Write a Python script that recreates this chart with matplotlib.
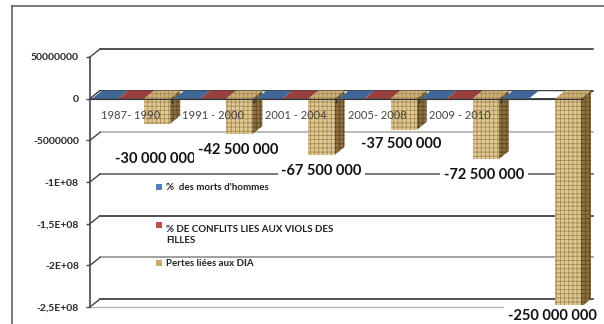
import numpy as np
import matplotlib.pyplot as plt
from matplotlib.patches import Polygon, Rectangle
from matplotlib.lines import Line2D

plt.rcParams['font.family'] = ['Lato', 'DejaVu Sans']
plt.rcParams['hatch.linewidth'] = 0.6

categories = ["1987- 1990", "1991 - 2000", "2001 - 2004", "2005- 2008", "2009 - 2010", ""]
morts_hommes = [0, 0, 0, 0, 0, 0]
conflits_viols = [0, 0, 0, 0, 0, np.nan]
pertes_dia = [-30000000, -42500000, -67500000, -37500000, -72500000, -250000000]

series_names = ["%  des morts d'hommes",
                "% DE CONFLITS LIES AUX VIOLS DES\nFILLES",
                "Pertes liées aux DIA"]

y_ticks = [50000000, 0, -50000000, -100000000, -150000000, -200000000, -250000000]
y_tick_labels = ["50000000", "0", "-5000000", "-1E+08", "-1,5E+08", "-2E+08", "-2,5E+08"]

# depth of the fake 3d box, in data units
DX = 0.122
DY = 9.6e6
W = 0.317

fig = plt.figure(figsize=(6.04, 3.24), dpi=100)
ax = fig.add_axes([90 / 604, 1 - 307 / 324, 503 / 604, 258 / 324])
ax.set_xlim(-0.5, 5.5 + DX)
ax.set_ylim(-250e6, 50e6 + DY)

# back wall gridlines with the slanted side-wall connectors
grid_colors = ['#222222', '#555555', '#a8a8a8', '#555555', '#222222', '#888888', '#222222']
for t, c in zip(y_ticks, grid_colors):
    ax.plot([-0.5 + DX, 5.5 + DX], [t + DY, t + DY], color=c, lw=1.1, zorder=1, clip_on=False)
    ax.plot([-0.5, -0.5 + DX], [t, t + DY], color='#444444', lw=1.0, zorder=1, clip_on=False)

# front edge of the floor at the bottom of the box
ax.plot([-0.5, 5.5], [-250e6, -250e6], color='#b8b8b8', lw=1.0, zorder=1, clip_on=False)

# floor slab
ax.add_patch(Polygon([(-0.5, 0), (5.5, 0), (5.5 + DX, DY), (-0.5 + DX, DY)],
                     closed=True, fc='white', ec='#333333', lw=0.8, zorder=1.2))


def draw_bar(i, k, v, front, top, side, hatch_col, hatch=None):
    x0 = i + (k - 1) * W - W / 2
    x1 = x0 + W
    ax.add_patch(Polygon([(x0, 0), (x1, 0), (x1 + DX, DY), (x0 + DX, DY)], closed=True,
                         fc=top, ec=hatch_col if hatch else top, lw=0, hatch=hatch, zorder=1.5))
    if v == 0:
        return
    ax.add_patch(Polygon([(x1, 0), (x1 + DX, DY), (x1 + DX, v + DY), (x1, v)], closed=True,
                         fc=side, ec='#5e4a28', lw=0, hatch=hatch, zorder=1.5))
    ax.add_patch(Rectangle((x0, v), W, -v, fc=front, ec=hatch_col, lw=0, hatch=hatch, zorder=1.6))


for i in range(len(categories)):
    if not np.isnan(morts_hommes[i]):
        draw_bar(i, 0, morts_hommes[i], '#4f81bd', '#3f6797', '#2f4f75', '#3f6797')
    if not np.isnan(conflits_viols[i]):
        draw_bar(i, 1, conflits_viols[i], '#c0504d', '#99403e', '#7a3230', '#99403e')
    draw_bar(i, 2, pertes_dia[i], '#e0c992', '#cdb07a', '#8c6f3e', '#a88a55', hatch='++++')

# value labels under the DIA bars
label_offsets = [(-2, -35), (-1, -16), (0, -16), (-2, -14), (-2, -16), (-16, -9)]
for i, (v, (ox, oy)) in enumerate(zip(pertes_dia, label_offsets)):
    txt = f"{v:,.0f}".replace(",", " ")
    ax.annotate(txt, xy=(i + W, v), xytext=(ox * 0.72, oy * 0.72), textcoords='offset points',
                ha='center', va='center', fontsize=10.5, fontweight='bold', color='#111111',
                bbox=dict(boxstyle='square,pad=0.25', fc='white', ec='none'), zorder=4,
                annotation_clip=False)

for s in ['top', 'right']:
    ax.spines[s].set_visible(False)
ax.spines['left'].set_bounds(-250e6, 50e6)
ax.spines['left'].set_color('#555555')
ax.spines['left'].set_linewidth(1.3)
ax.spines['bottom'].set_position(('data', 0))
ax.spines['bottom'].set_bounds(-0.5, 5.5)
ax.spines['bottom'].set_color('#333333')
ax.spines['bottom'].set_linewidth(0.8)
ax.set_axisbelow(False)

ax.set_yticks(y_ticks)
ax.set_yticklabels(y_tick_labels, fontsize=7.5, fontweight='bold', color='#262626')
ax.tick_params(axis='y', length=3, width=1, color='#444444', pad=5)

ax.set_xticks(range(len(categories)))
ax.set_xticklabels(categories, fontsize=8, color='#444444')
ax.set_xticks(np.arange(0.5, 5.5, 1), minor=True)
ax.tick_params(axis='x', which='major', length=0, pad=8)
ax.tick_params(axis='x', which='minor', length=3, width=1, color='#333333')

# legend entries sit inside the plot, between the gridlines
legend_colors = ['#4f81bd', '#c0504d', '#c8aa6e']
legend_y = [187, 225, 263]
for name, col, yy in zip(series_names, legend_colors, legend_y):
    fig.add_artist(Rectangle((156 / 604, 1 - (yy + 3) / 324), 6 / 604, 6 / 324,
                             transform=fig.transFigure, fc=col, ec='none'))
    fig.text(166 / 604, 1 - yy / 324, name, fontsize=7, fontweight='bold', color='#222222',
             ha='left', va='top' if '\n' in name else 'center', linespacing=1.25,
             transform=fig.transFigure)

# chart area border
fig.add_artist(Line2D([12 / 604, 12 / 604], [0, 1 - 6 / 324], color='#555555', lw=1.1,
                      transform=fig.transFigure))
fig.add_artist(Line2D([12 / 604, 1], [1 - 6 / 324, 1 - 6 / 324], color='#555555', lw=1.1,
                      transform=fig.transFigure))

fig.savefig('out.png', dpi=100)
